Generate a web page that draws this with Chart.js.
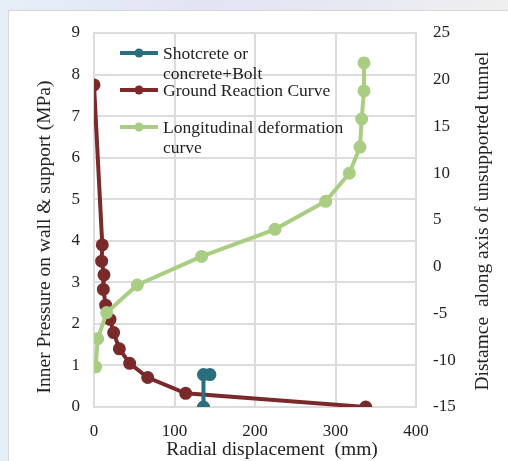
<!DOCTYPE html>
<html>
<head>
<meta charset="utf-8">
<script src="https://cdn.jsdelivr.net/npm/chart.js@4/dist/chart.umd.min.js"></script>
<style>
  html, body { margin: 0; padding: 0; }
  body {
    width: 508px; height: 461px; overflow: hidden; position: relative;
    background: linear-gradient(90deg, #e6eef8 0%, #e2e4f4 40%, #e8e8f3 70%, #efefef 100%);
  }
  #sheet {
    position: absolute; left: 8px; top: 10px; right: 0; bottom: 0;
    background: #ffffff; border-left: 1px solid #d6d6d6; border-top: 1px solid #d6d6d6;
  }
  #wrap { position: absolute; left: 0; top: 0; width: 508px; height: 461px; }
</style>
</head>
<body>
<div id="sheet"></div>
<div id="wrap"><canvas id="c" width="508" height="461"></canvas></div>
<script>
// Support line: radial displacement (mm) vs support pressure (MPa)
const supportDisp = [136, 136, 144];
const supportPressure = [0, 0.78, 0.78];

// Ground reaction curve: radial displacement (mm) vs inner pressure (MPa)
const grcDisp = [0, 10.3, 9.5, 12.4, 11.6, 14.5, 19.9, 24.4, 31.5, 44.3, 66.7, 113.9, 337.5];
const grcPressure = [7.75, 3.90, 3.51, 3.18, 2.83, 2.45, 2.11, 1.79, 1.40, 1.05, 0.71, 0.33, 0.0];

// Longitudinal deformation profile: radial displacement (mm) vs distance along tunnel axis
const ldpDisp = [2.1, 4.6, 15.7, 53.8, 133.7, 224.8, 287.8, 317.2, 330.4, 332.5, 335.4, 335.4];
const ldpDistance = [-10.7, -7.7, -4.9, -1.95, 1.1, 4.0, 7.0, 10.0, 12.8, 15.8, 18.8, 21.8];

// Axis ranges and labels
const xTicks = [0, 100, 200, 300, 400];
const leftTicks = [0, 1, 2, 3, 4, 5, 6, 7, 8, 9];
const rightTicks = [-15, -10, -5, 0, 5, 10, 15, 20, 25];
const seriesLabels = [["Shotcrete or", "concrete+Bolt"], ["Ground Reaction Curve"], ["Longitudinal deformation", "curve"]];
const xTitle = "Radial displacement  (mm)";
const leftTitle = "Inner Pressure on wall & support (MPa)";
const rightTitle = "Distamce  along axis of unsupported tunnel";

const pts = (xs, ys) => xs.map((x, i) => ({ x: x, y: ys[i] }));

const FONT = "'Liberation Serif', 'Times New Roman', serif";
const TEXT = '#222222';
const GRID = '#dcdcdc';

const colors = ['#2c6e7e', '#7a2a2a', '#a9cd82'];

function series(i, data, axis, order) {
  return {
    label: seriesLabels[i],
    data: data,
    yAxisID: axis,
    showLine: true,
    borderColor: colors[i],
    backgroundColor: colors[i],
    pointBackgroundColor: colors[i],
    pointBorderColor: colors[i],
    borderWidth: 4,
    pointRadius: 4.5,
    pointHoverRadius: 4.5,
    tension: 0,
    order: order
  };
}

// Legend drawn inside the plot, with wrapped labels
const innerLegend = {
  id: 'innerLegend',
  afterDraw(chart) {
    const ctx = chart.ctx;
    const a = chart.chartArea;
    const x0 = a.left + 26, x1 = a.left + 64, tx = a.left + 69;
    const rows = [{ y: a.top + 20 }, { y: a.top + 57 }, { y: a.top + 94 }];
    ctx.save();
    ctx.font = '17.5px ' + FONT;
    ctx.textBaseline = 'middle';
    ctx.textAlign = 'left';
    chart.data.datasets.forEach((ds, i) => {
      const r = rows[i];
      ctx.strokeStyle = ds.borderColor;
      ctx.lineWidth = 4;
      ctx.beginPath();
      ctx.moveTo(x0, r.y);
      ctx.lineTo(x1, r.y);
      ctx.stroke();
      ctx.fillStyle = ds.borderColor;
      ctx.beginPath();
      ctx.arc((x0 + x1) / 2, r.y, 4.5, 0, Math.PI * 2);
      ctx.fill();
      ctx.fillStyle = TEXT;
      ds.label.forEach((line, k) => ctx.fillText(line, tx, r.y + 1.5 + k * 20));
    });
    ctx.restore();
  }
};

// Axis titles
const axisTitles = {
  id: 'axisTitles',
  afterDraw(chart) {
    const ctx = chart.ctx;
    const put = (text, x, y, rot) => {
      ctx.save();
      ctx.fillStyle = TEXT;
      ctx.font = '19.5px ' + FONT;
      ctx.textAlign = 'center';
      ctx.textBaseline = 'middle';
      ctx.translate(x, y);
      if (rot) ctx.rotate(-Math.PI / 2);
      ctx.fillText(text, 0, 0);
      ctx.restore();
    };
    put(xTitle, 272, 450, false);
    put(leftTitle, 45, 237, true);
    put(rightTitle, 483, 221, true);
  }
};

new Chart(document.getElementById('c'), {
  type: 'scatter',
  data: {
    datasets: [
      series(0, pts(supportDisp, supportPressure), 'y', 1),
      series(1, pts(grcDisp, grcPressure), 'y', 2),
      series(2, pts(ldpDisp, ldpDistance), 'y1', 0)
    ]
  },
  options: {
    responsive: false,
    animation: false,
    events: [],
    layout: { padding: { top: 33, left: 0, right: 0, bottom: 0 } },
    plugins: { legend: { display: false }, tooltip: { enabled: false } },
    scales: {
      x: {
        type: 'linear',
        min: xTicks[0], max: xTicks[xTicks.length - 1],
        afterBuildTicks: s => { s.ticks = xTicks.map(v => ({ value: v })); },
        afterFit: s => { s.height = 54; },
        grid: { color: GRID, lineWidth: 2, drawTicks: false },
        border: { color: GRID, width: 2 },
        ticks: { padding: 14, color: TEXT, font: { family: FONT, size: 17 }, maxRotation: 0 }
      },
      y: {
        position: 'left',
        min: leftTicks[0], max: leftTicks[leftTicks.length - 1],
        afterBuildTicks: s => { s.ticks = leftTicks.map(v => ({ value: v })); },
        afterFit: s => { s.width = 94; },
        grid: { color: GRID, lineWidth: 2, drawTicks: false },
        border: { color: GRID, width: 2 },
        ticks: { padding: 14, color: TEXT, font: { family: FONT, size: 17 } }
      },
      y1: {
        position: 'right',
        min: rightTicks[0], max: rightTicks[rightTicks.length - 1],
        afterBuildTicks: s => { s.ticks = rightTicks.map(v => ({ value: v })); },
        afterFit: s => { s.width = 92; },
        grid: { drawOnChartArea: false, drawTicks: false },
        border: { color: GRID, width: 2 },
        ticks: { padding: 17, color: TEXT, font: { family: FONT, size: 17 } }
      }
    }
  },
  plugins: [innerLegend, axisTitles]
});
</script>
</body>
</html>
